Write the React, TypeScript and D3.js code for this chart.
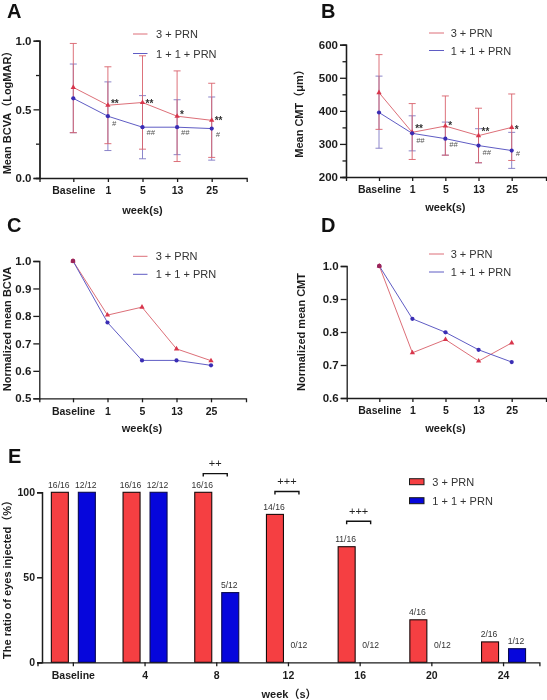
import React, { useEffect, useRef } from "react";
import * as d3 from "d3";

const weeks = ["Baseline", "1", "5", "13", "25"];
const RED = "3 + PRN";
const BLUE = "1 + 1 + PRN";

// A: BCVA
const bcvaRed = [0.66, 0.53, 0.55, 0.45, 0.42];
const bcvaRedHi = [0.98, 0.81, 0.89, 0.78, 0.69];
const bcvaRedLo = [0.33, 0.25, 0.21, 0.12, 0.15];
const bcvaBlue = [0.58, 0.45, 0.37, 0.37, 0.36];
const bcvaBlueHi = [0.83, 0.7, 0.6, 0.57, 0.59];
const bcvaBlueLo = [0.33, 0.2, 0.14, 0.17, 0.13];
const bcvaStars = [["1", "**", 0.56], ["5", "**", 0.56], ["13", "*", 0.48], ["25", "**", 0.44]];
const bcvaHash = [["1", "#", 0.4], ["5", "##", 0.33], ["13", "##", 0.33], ["25", "#", 0.32]];

// B: CMT
const cmtRed = [455, 335, 354, 325, 350];
const cmtRedHi = [570, 422, 445, 408, 451];
const cmtRedLo = [344, 253, 266, 243, 250];
const cmtBlue = [395, 332, 316, 295, 280];
const cmtBlueHi = [505, 385, 366, 346, 335];
const cmtBlueLo = [287, 279, 266, 243, 226];
const cmtStars = [["1", "**", 354], ["5", "*", 364], ["13", "**", 346], ["25", "*", 352]];
const cmtHash = [["1", "##", 310], ["5", "##", 297], ["13", "##", 275], ["25", "#", 270]];

// C, D: normalized
const normBcvaRed = [1, 0.803, 0.832, 0.68, 0.637];
const normBcvaBlue = [1, 0.776, 0.638, 0.638, 0.62];
const normCmtRed = [1, 0.737, 0.777, 0.712, 0.767];
const normCmtBlue = [1, 0.84, 0.799, 0.746, 0.709];

// E: injections
const injWeeks = ["Baseline", "4", "8", "12", "16", "20", "24"];
const injRed = [100, 100, 100, 87, 68, 25, 12];
const injBlue = [100, 100, 41, 0, 0, 0, 8];
const injRedLabels = ["16/16", "16/16", "16/16", "14/16", "11/16", "4/16", "2/16"];
const injBlueLabels = ["12/12", "12/12", "5/12", "0/12", "0/12", "0/12", "1/12"];
const brackets = [["8", "++", 111], ["12", "+++", 100.5], ["16", "+++", 83]];

const FONT = "'Liberation Sans', 'Noto Sans CJK SC', sans-serif";
const lineRed = "#dd6f78";
const lineBlue = "#5f5cc4";
const dotRed = "#d8364c";
const dotBlue = "#3a2db4";
const ink = "#1c1c1c";

type G = d3.Selection<SVGGElement, unknown, null, undefined>;

interface PanelOpts {
  letter: string;
  letterX: number;
  letterY: number;
  left: number;
  right: number;
  firstX: number;
  lastX: number;
  top: number;
  bottom: number;
  domain: [number, number];
  ticks: number[];
  minor?: number[];
  fmt: string;
  yTitle: string;
  yTitleX: number;
  yTitleY: number;
  weekY: number;
  legendLine: [number, number];
  legendTextX: number;
  legendY: [number, number];
  red: number[];
  blue: number[];
  redErr?: [number[], number[]];
  blueErr?: [number[], number[]];
  stars?: (string | number)[][];
  hashes?: (string | number)[][];
}

function drawText(g: G, x: number, y: number, s: string, size: number, weight = "normal", color = ink) {
  return g
    .append("text")
    .attr("x", x)
    .attr("y", y)
    .attr("font-size", size)
    .attr("font-weight", weight)
    .attr("fill", color)
    .attr("font-family", FONT)
    .text(s);
}

function styleAxis(a: G, size: number) {
  a.selectAll("path,line").attr("stroke", ink).attr("stroke-width", 1.3);
  a.selectAll("text")
    .attr("font-family", FONT)
    .attr("font-size", size)
    .attr("font-weight", "bold")
    .attr("fill", ink);
}

function linePanel(svg: G, o: PanelOpts) {
  const x = d3.scalePoint<string>().domain(weeks).range([o.firstX, o.lastX]);
  const y = d3.scaleLinear().domain(o.domain).range([o.bottom, o.top]);
  const g = svg.append("g");

  drawText(g, o.letterX, o.letterY, o.letter, 20, "bold", "#111");

  // axes
  const xAxisG = g.append("g").attr("transform", `translate(0,${o.bottom})`);
  const xAxis = d3
    .axisBottom(d3.scaleLinear().domain([o.left, o.right]).range([o.left, o.right]))
    .tickValues(weeks.map((w) => x(w) as number))
    .tickFormat((_, i) => weeks[i])
    .tickSizeOuter(0)
    .tickSize(4)
    .tickPadding(5);
  xAxisG.call(xAxis);
  styleAxis(xAxisG, 10.5);

  const yAxisG = g.append("g").attr("transform", `translate(${o.left},0)`);
  yAxisG.call(
    d3
      .axisLeft(y)
      .tickValues(o.ticks)
      .tickFormat(d3.format(o.fmt) as any)
      .tickSizeOuter(0)
      .tickSize(6)
      .tickPadding(2)
  );
  styleAxis(yAxisG, 11.5);
  if (o.minor) {
    const minorG = g.append("g").attr("transform", `translate(${o.left},0)`);
    minorG.call(
      d3.axisLeft(y).tickValues(o.minor).tickFormat(() => "").tickSizeOuter(0).tickSize(3.5)
    );
    styleAxis(minorG, 10);
  }

  // error bars
  const errorBars = (err: [number[], number[]], color: string) => {
    weeks.forEach((w, i) => {
      const cx = x(w) as number;
      const [hi, lo] = [err[0][i], err[1][i]];
      const path = d3.path();
      path.moveTo(cx, y(hi));
      path.lineTo(cx, y(lo));
      [hi, lo].forEach((v) => {
        path.moveTo(cx - 3.5, y(v));
        path.lineTo(cx + 3.5, y(v));
      });
      g.append("path")
        .attr("d", path.toString())
        .attr("fill", "none")
        .attr("stroke", color)
        .attr("stroke-width", 0.9);
    });
  };
  if (o.blueErr) errorBars(o.blueErr, "#7f78c4");
  if (o.redErr) errorBars(o.redErr, "#d9626c");

  // lines
  const line = d3
    .line<number>()
    .x((_, i) => x(weeks[i]) as number)
    .y((d) => y(d));
  g.append("path").attr("d", line(o.red)).attr("fill", "none").attr("stroke", lineRed).attr("stroke-width", 1);
  g.append("path").attr("d", line(o.blue)).attr("fill", "none").attr("stroke", lineBlue).attr("stroke-width", 1);

  // markers
  const tri = d3.symbol().type(d3.symbolTriangle).size(12);
  g.selectAll(null)
    .data(o.red)
    .enter()
    .append("path")
    .attr("d", tri())
    .attr("transform", (d, i) => `translate(${x(weeks[i])},${y(d)})`)
    .attr("fill", dotRed);
  g.selectAll(null)
    .data(o.blue)
    .enter()
    .append("circle")
    .attr("cx", (_, i) => x(weeks[i]) as number)
    .attr("cy", (d) => y(d))
    .attr("r", 2.1)
    .attr("fill", dotBlue);
  if (o.red[0] === o.blue[0]) {
    g.append("circle").attr("cx", o.firstX).attr("cy", y(o.red[0])).attr("r", 2.3).attr("fill", "#9c2458");
  }

  // significance marks
  (o.stars || []).forEach(([w, s, v]) => {
    drawText(g, (x(w as string) as number) + 3, y(v as number) + 6, s as string, 10, "bold", "#333");
  });
  (o.hashes || []).forEach(([w, s, v]) => {
    drawText(g, (x(w as string) as number) + 4, y(v as number) + 2.5, s as string, 7.5, "normal", "#555").attr(
      "font-style",
      "italic"
    );
  });

  // titles
  drawText(g, (o.firstX + o.lastX) / 2, o.weekY, "week(s)", 11, "bold").attr("text-anchor", "middle");
  drawText(g, 0, 0, o.yTitle, 11, "bold")
    .attr("text-anchor", "middle")
    .attr("transform", `translate(${o.yTitleX},${o.yTitleY}) rotate(-90)`);

  // legend
  [RED, BLUE].forEach((name, i) => {
    g.append("line")
      .attr("x1", o.legendLine[0])
      .attr("x2", o.legendLine[1])
      .attr("y1", o.legendY[i])
      .attr("y2", o.legendY[i])
      .attr("stroke", i === 0 ? lineRed : lineBlue)
      .attr("stroke-width", 1);
    drawText(g, o.legendTextX, o.legendY[i] + 4, name, 11, "normal", "#333");
  });
}

function barPanel(svg: G) {
  const left = 42;
  const top = 492.3;
  const bottom = 662.3;
  const g = svg.append("g");
  const y = d3.scaleLinear().domain([0, 100]).range([bottom, top]);
  const x = d3.scaleBand<string>().domain(injWeeks).range([37.5, 539.4]);
  const inner = d3
    .scaleBand<string>()
    .domain([RED, BLUE])
    .range([0, x.step()])
    .paddingInner(0.37)
    .paddingOuter(0.513);

  drawText(g, 8, 463, "E", 20, "bold", "#111");

  const series: [string, number[], string[], string, string][] = [
    [RED, injRed, injRedLabels, "#f53f42", "#1a0a0a"],
    [BLUE, injBlue, injBlueLabels, "#0606dc", "#0a0a50"],
  ];
  series.forEach(([name, values, labels, fill, stroke]) => {
    injWeeks.forEach((w, i) => {
      const bx = (x(w) as number) + (inner(name) as number);
      if (values[i] > 0) {
        g.append("rect")
          .attr("x", bx)
          .attr("y", y(values[i]))
          .attr("width", inner.bandwidth())
          .attr("height", bottom - y(values[i]))
          .attr("fill", fill)
          .attr("stroke", stroke)
          .attr("stroke-width", 1.1);
      }
      drawText(
        g,
        bx + inner.bandwidth() / 2 - (values[i] > 0 ? 1 : 3),
        y(values[i]) - (values[i] > 0 ? 4.5 : 14),
        labels[i],
        8.6,
        "normal",
        "#333"
      ).attr("text-anchor", "middle");
    });
  });

  const xAxisG = g.append("g").attr("transform", `translate(0,${bottom})`);
  xAxisG.call(d3.axisBottom(x).tickSizeOuter(0).tickSize(4).tickPadding(5));
  styleAxis(xAxisG, 10.5);
  const yAxisG = g.append("g").attr("transform", `translate(${left},0)`);
  yAxisG.call(d3.axisLeft(y).tickValues([0, 50, 100]).tickSizeOuter(0).tickSize(5).tickPadding(2));
  styleAxis(yAxisG, 10.5);
  yAxisG.selectAll("path,line").attr("stroke-width", 1.5);

  // brackets over the groups that differ
  brackets.forEach(([w, s, v]) => {
    const x0 = (x(w as string) as number) + (inner(RED) as number) + inner.bandwidth() / 2;
    const x1 = x0 + 24;
    const by = y(v as number);
    g.append("path")
      .attr("d", `M${x0},${by + 3}V${by}H${x1}V${by + 3}`)
      .attr("fill", "none")
      .attr("stroke", "#111")
      .attr("stroke-width", 1.4);
    drawText(g, (x0 + x1) / 2, by - 6.5, s as string, 11, "normal", "#222").attr("text-anchor", "middle");
  });

  drawText(g, 289, 698, "week（s）", 11, "bold").attr("text-anchor", "middle");
  drawText(g, 0, 0, "The ratio of eyes injected（%）", 11, "bold")
    .attr("text-anchor", "middle")
    .attr("transform", "translate(11,577) rotate(-90)");

  // legend
  [RED, BLUE].forEach((name, i) => {
    const ly = 478.7 + i * 19;
    g.append("rect")
      .attr("x", 409.5)
      .attr("y", ly)
      .attr("width", 14.5)
      .attr("height", 6)
      .attr("fill", i === 0 ? "#f53f42" : "#0606dc")
      .attr("stroke", "#1a1a1a")
      .attr("stroke-width", 1);
    drawText(g, 432.3, ly + 7, name, 11, "normal", "#333");
  });
}

export default function App() {
  const ref = useRef<SVGSVGElement | null>(null);

  useEffect(() => {
    if (!ref.current) return;
    const root = d3.select(ref.current);
    root.selectAll("*").remove();
    const svg = root.append("g") as unknown as G;

    linePanel(svg, {
      letter: "A", letterX: 7, letterY: 17.5,
      left: 39.5, right: 246.7, firstX: 73.3, lastX: 211.7, top: 40.7, bottom: 178,
      domain: [0, 1], ticks: [0, 0.5, 1], minor: [0.25, 0.75], fmt: ".1f",
      yTitle: "Mean BCVA（LogMAR）", yTitleX: 11, yTitleY: 110, weekY: 214,
      legendLine: [133, 147.5], legendTextX: 156, legendY: [34, 53.5],
      red: bcvaRed, blue: bcvaBlue,
      redErr: [bcvaRedHi, bcvaRedLo], blueErr: [bcvaBlueHi, bcvaBlueLo],
      stars: bcvaStars, hashes: bcvaHash,
    });
    linePanel(svg, {
      letter: "B", letterX: 321, letterY: 17.5,
      left: 346, right: 546, firstX: 379, lastX: 511.7, top: 44.7, bottom: 177,
      domain: [200, 600], ticks: [200, 300, 400, 500, 600], minor: [250, 350, 450, 550], fmt: "d",
      yTitle: "Mean CMT（μm）", yTitleX: 303, yTitleY: 111, weekY: 211,
      legendLine: [429, 444], legendTextX: 450.7, legendY: [33, 50.5],
      red: cmtRed, blue: cmtBlue,
      redErr: [cmtRedHi, cmtRedLo], blueErr: [cmtBlueHi, cmtBlueLo],
      stars: cmtStars, hashes: cmtHash,
    });
    linePanel(svg, {
      letter: "C", letterX: 7, letterY: 232,
      left: 39.3, right: 246, firstX: 73, lastX: 211, top: 261, bottom: 398.3,
      domain: [0.5, 1], ticks: [0.5, 0.6, 0.7, 0.8, 0.9, 1], fmt: ".1f",
      yTitle: "Normalized mean BCVA", yTitleX: 11, yTitleY: 329, weekY: 432,
      legendLine: [133, 147.5], legendTextX: 155.7, legendY: [256.3, 274.3],
      red: normBcvaRed, blue: normBcvaBlue,
    });
    linePanel(svg, {
      letter: "D", letterX: 321, letterY: 232,
      left: 346.7, right: 546, firstX: 379.3, lastX: 511.7, top: 266, bottom: 398,
      domain: [0.6, 1], ticks: [0.6, 0.7, 0.8, 0.9, 1], fmt: ".1f",
      yTitle: "Normalized mean CMT", yTitleX: 305, yTitleY: 332, weekY: 432,
      legendLine: [429, 444], legendTextX: 450.7, legendY: [254, 272],
      red: normCmtRed, blue: normCmtBlue,
    });
    barPanel(svg);
  }, []);

  return (
    <svg
      ref={ref}
      width={547}
      height={700}
      style={{ position: "absolute", left: 0, top: 0, background: "#fff", filter: "blur(0.3px)" }}
    />
  );
}
